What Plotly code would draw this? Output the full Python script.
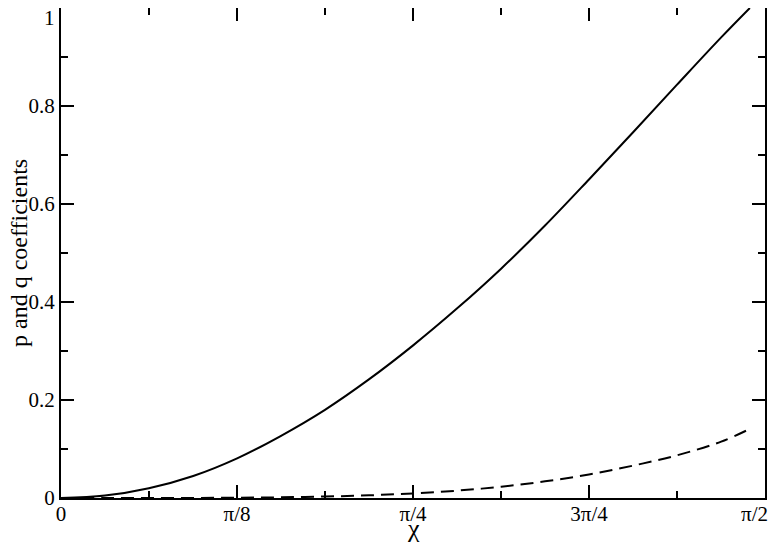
import math
import plotly.graph_objects as go

# chi values (radians) sampled along the curves
chi = [0.0, 0.098, 0.196, 0.295, 0.393, 0.489, 0.589, 0.687, 0.785,
       0.884, 0.982, 1.080, 1.178, 1.276, 1.374, 1.473, 1.537]

# p coefficient (solid) and q coefficient (dashed)
p_coef = [0.0, 0.005, 0.020, 0.045, 0.081, 0.126, 0.180, 0.242, 0.311,
          0.387, 0.468, 0.556, 0.650, 0.746, 0.843, 0.940, 1.0]
q_coef = [0.0, 0.0, 0.0, 0.0001, 0.0006, 0.0014, 0.003, 0.0055, 0.0093,
          0.015, 0.023, 0.034, 0.048, 0.066, 0.087, 0.115, 0.141]

x_tickvals = [0, math.pi / 8, math.pi / 4, 3 * math.pi / 8, math.pi / 2]
x_ticktext = ["0", "π/8", "π/4", "3π/4", "π/2"]
x_minor = [k * math.pi / 16 for k in range(9)]
y_tickvals = [0, 0.2, 0.4, 0.6, 0.8, 1]
y_ticktext = ["0", "0.2", "0.4", "0.6", "0.8", "1"]

SERIF = "Liberation Serif, Times New Roman, serif"
NBSP = "\u00a0"

# edge labels: the last x label is padded so it stays on the page, the top
# y label is drawn as an annotation just below the frame corner
x_labels = x_ticktext[:-1] + [x_ticktext[-1] + NBSP * 4]
y_labels = y_ticktext[:-1] + [""]

fig = go.Figure()
fig.add_trace(go.Scatter(x=chi, y=p_coef, mode="lines",
                         line=dict(color="black", width=2, shape="spline")))
fig.add_trace(go.Scatter(x=chi, y=q_coef, mode="lines",
                         line=dict(color="black", width=2, shape="spline",
                                   dash="13px,7px")))

axis_style = dict(
    showline=True, linecolor="black", linewidth=2, mirror="ticks",
    ticks="inside", ticklen=13, tickwidth=1.5, tickcolor="black",
    showgrid=False, zeroline=False, automargin=False,
    ticklabeloverflow="allow",
    tickfont=dict(family=SERIF, size=21, color="black"),
)

# the page body adds an 8px offset, so the figure is a bit smaller
fig.update_layout(
    width=769, height=537,
    margin=dict(l=53, r=12, t=0, b=47),
    font=dict(family=SERIF, size=21, color="black"),
    plot_bgcolor="white", paper_bgcolor="white",
    showlegend=False,
    xaxis=dict(range=[0, math.pi / 2], tickmode="array",
               tickvals=x_tickvals, ticktext=x_labels,
               ticklabelstandoff=-4,
               minor=dict(tickmode="array", tickvals=x_minor, ticks="inside",
                          ticklen=7, tickwidth=1.5, tickcolor="black"),
               **axis_style),
    yaxis=dict(range=[0, 1], tickmode="array",
               tickvals=y_tickvals, ticktext=y_labels,
               minor=dict(dtick=0.1, ticks="inside", ticklen=7,
                          tickwidth=1.5, tickcolor="black"),
               **axis_style),
)

fig.add_annotation(x=0, y=y_tickvals[-1], xref="paper", yref="y",
                   text=y_ticktext[-1], showarrow=False,
                   xanchor="right", yanchor="top", xshift=-4, yshift=4,
                   font=dict(family=SERIF, size=21, color="black"))

# axis titles as annotations so they sit where the reference has them
fig.add_annotation(x=math.pi / 4, y=0, xref="x", yref="paper",
                   text="χ", showarrow=False, yanchor="bottom", yshift=-47,
                   font=dict(family=SERIF, size=26, color="black"))
fig.add_annotation(x=0, y=0.5, xref="paper", yref="paper",
                   text="p and q coefficients", showarrow=False,
                   textangle=-90, xanchor="center", yanchor="middle",
                   xshift=-42,
                   font=dict(family=SERIF, size=24, color="black"))

fig.write_html("out.html")
